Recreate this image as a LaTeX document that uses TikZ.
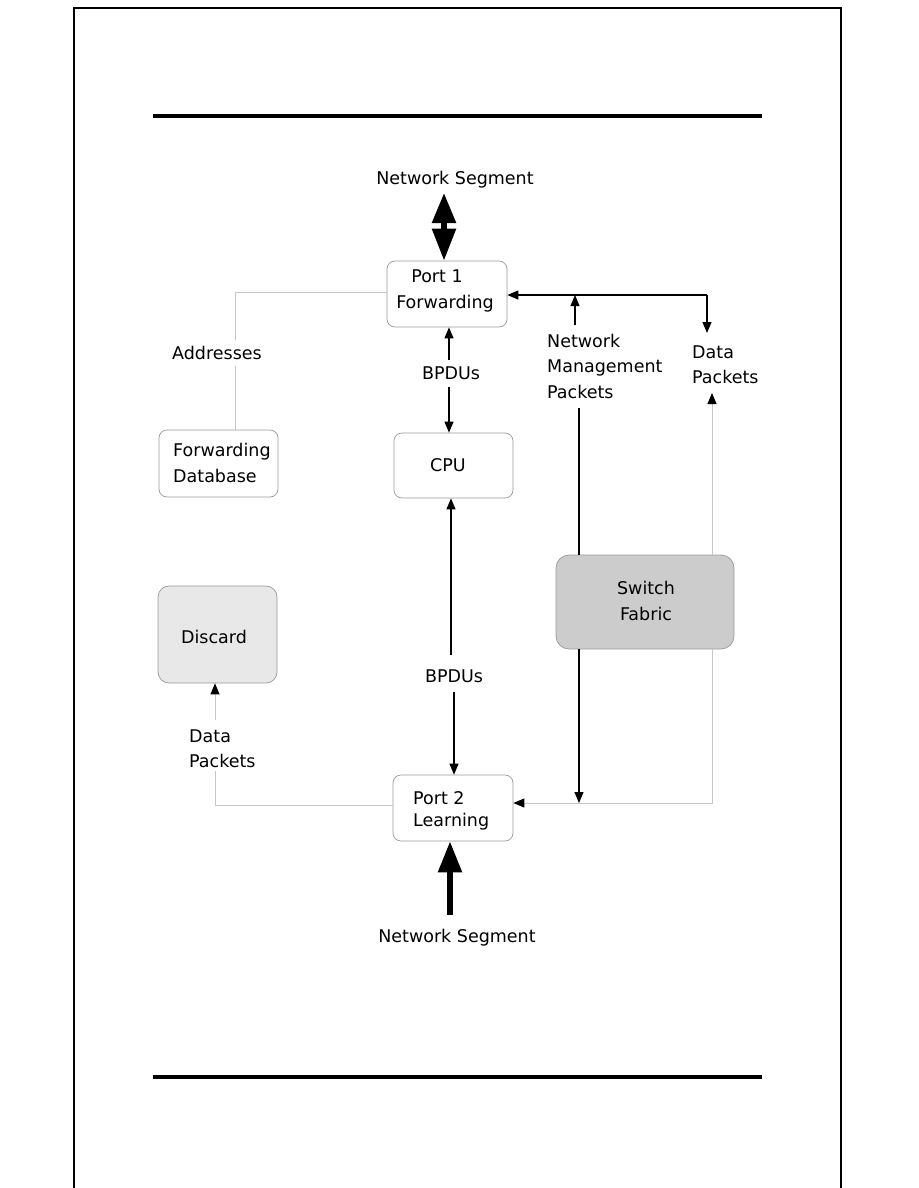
\documentclass[tikz,border=0pt]{standalone}
\usepackage{fontspec}
\setmainfont{DejaVu Sans}
\usetikzlibrary{arrows.meta}
\begin{document}
\begin{tikzpicture}[x=1pt,y=-1pt,
  font=\fontsize{17.5}{21}\selectfont,
  box/.style={draw=black!40, rounded corners=8pt, line width=0.7pt, inner sep=0pt},
  txt/.style={inner sep=0pt, align=left},
  tip/.style={-{Triangle[length=11pt,width=9pt,color=black]}},
  blk/.style={draw=black, line width=1.1pt},
  lgr/.style={draw=black!22, line width=1pt},
  thick arrow/.style={line width=5.5pt, line cap=butt}]
\useasboundingbox (0,0) rectangle (918,1188);
% page frame and rules
\draw[line width=1.2pt] (74,1188) -- (74,8) -- (841,8) -- (841,1188);
\draw[line width=3.5pt] (153,116) -- (762,116);
\draw[line width=3.5pt] (153,1077) -- (762,1077);

% boxes
\node[box, minimum width=120pt, minimum height=66pt] (p1) at (447,294) {};
\node[box, minimum width=119pt, minimum height=67pt] (fdb) at (218.5,463.5) {};
\node[box, minimum width=119pt, minimum height=65pt] (cpu) at (453.5,465.5) {};
\node[box, minimum width=120pt, minimum height=66pt] (p2) at (453,808) {};
\node[box, fill=black!20, rounded corners=13pt, minimum width=178pt, minimum height=94pt] (sf) at (645,602) {};
\node[box, fill=black!9, rounded corners=11pt, minimum width=119pt, minimum height=97pt] (disc) at (217.5,634.5) {};

% texts
\node[txt] (ns1) at (455,180) {Network Segment};
\node[txt] (ns2) at (457,938) {Network Segment};
\node[txt] (p1a) at (437,276) {Port 1};
\node[txt] (p1b) at (445,304) {Forwarding};
\node[txt] (addr) at (217,353) {Addresses};
\node[txt, anchor=west, font=\fontsize{17.5}{26}\selectfont] (fdbt) at (173,463) {Forwarding\\Database};
\node[txt] (bp1) at (451,373) {BPDUs};
\node[txt] (cput) at (448,465) {CPU};
\node[txt] (bp2) at (454,676) {BPDUs};
\node[txt, anchor=west, font=\fontsize{17.5}{25.5}\selectfont] (nmp) at (547,366) {Network\\Management\\Packets};
\node[txt, anchor=west, font=\fontsize{17.5}{25}\selectfont] (dp1) at (692,364.5) {Data\\Packets};
\node[txt, align=center, font=\fontsize{17.5}{26}\selectfont] (sft) at (646,601) {Switch\\Fabric};
\node[txt] (disct) at (214,637) {Discard};
\node[txt, anchor=west, font=\fontsize{17.5}{25}\selectfont] (dp2) at (189,748.5) {Data\\Packets};
\node[txt, anchor=west, font=\fontsize{17.5}{22}\selectfont] (p2t) at (413,811) {Port 2\\Learning};

% coordinates
\coordinate (a1) at (235,292);
\coordinate (a2) at (235,340);
\coordinate (a3) at (235,366);
\coordinate (r1) at (707,295);
\coordinate (r2) at (707,333);
\coordinate (n1) at (575,325);
\coordinate (m1) at (579,408);
\coordinate (m2) at (579,803);
\coordinate (d1) at (712,393);
\coordinate (d2) at (712,803);
\coordinate (b1) at (449,360);
\coordinate (b2) at (449,387);
\coordinate (c1) at (451,655);
\coordinate (c2) at (454,692);
\coordinate (l1) at (215,805);
\coordinate (l2) at (215,771);
\coordinate (l3) at (215,720);

% thick network segment arrows
\draw[thick arrow, {Triangle[length=30pt,width=23pt]}-{Triangle[length=32pt,width=23pt]}] (444,193) -- (p1.north -| 444,0);
\draw[thick arrow, -{Triangle[length=31pt,width=23pt]}] (450,915) -- (p2.south -| 450,0);

% addresses
\draw[lgr] (p1.west |- a1) -- (a1) -- (a2);
\draw[lgr] (a3) -- (a3 |- fdb.north);

% BPDUs
\draw[blk, tip] (b1) -- (b1 |- p1.south);
\draw[blk, tip] (b2) -- (b2 |- cpu.north);
\draw[blk, tip] (c1) -- (c1 |- cpu.south);
\draw[blk, tip] (c2) -- (c2 |- p2.north);

% right side top
\draw[blk, tip] (r1) -- (r1 -| p1.east);
\draw[blk, tip] (r1) -- (r2);
\draw[blk, tip] (n1) -- (n1 |- r1);

% network management down through switch fabric
\draw[blk] (m1) -- (m1 |- sf.north);
\draw[blk, tip] (m1 |- sf.south) -- (m2);

% data packets through switch fabric
\draw[lgr, tip] (d1 |- sf.north) -- (d1);
\draw[lgr, tip] (d1 |- sf.south) -- (d2) -- (d2 -| p2.east);

% port 2 to discard
\draw[lgr] (l1 -| p2.west) -- (l1) -- (l2);
\draw[lgr, tip] (l3) -- (l3 |- disc.south);
\end{tikzpicture}
\end{document}
